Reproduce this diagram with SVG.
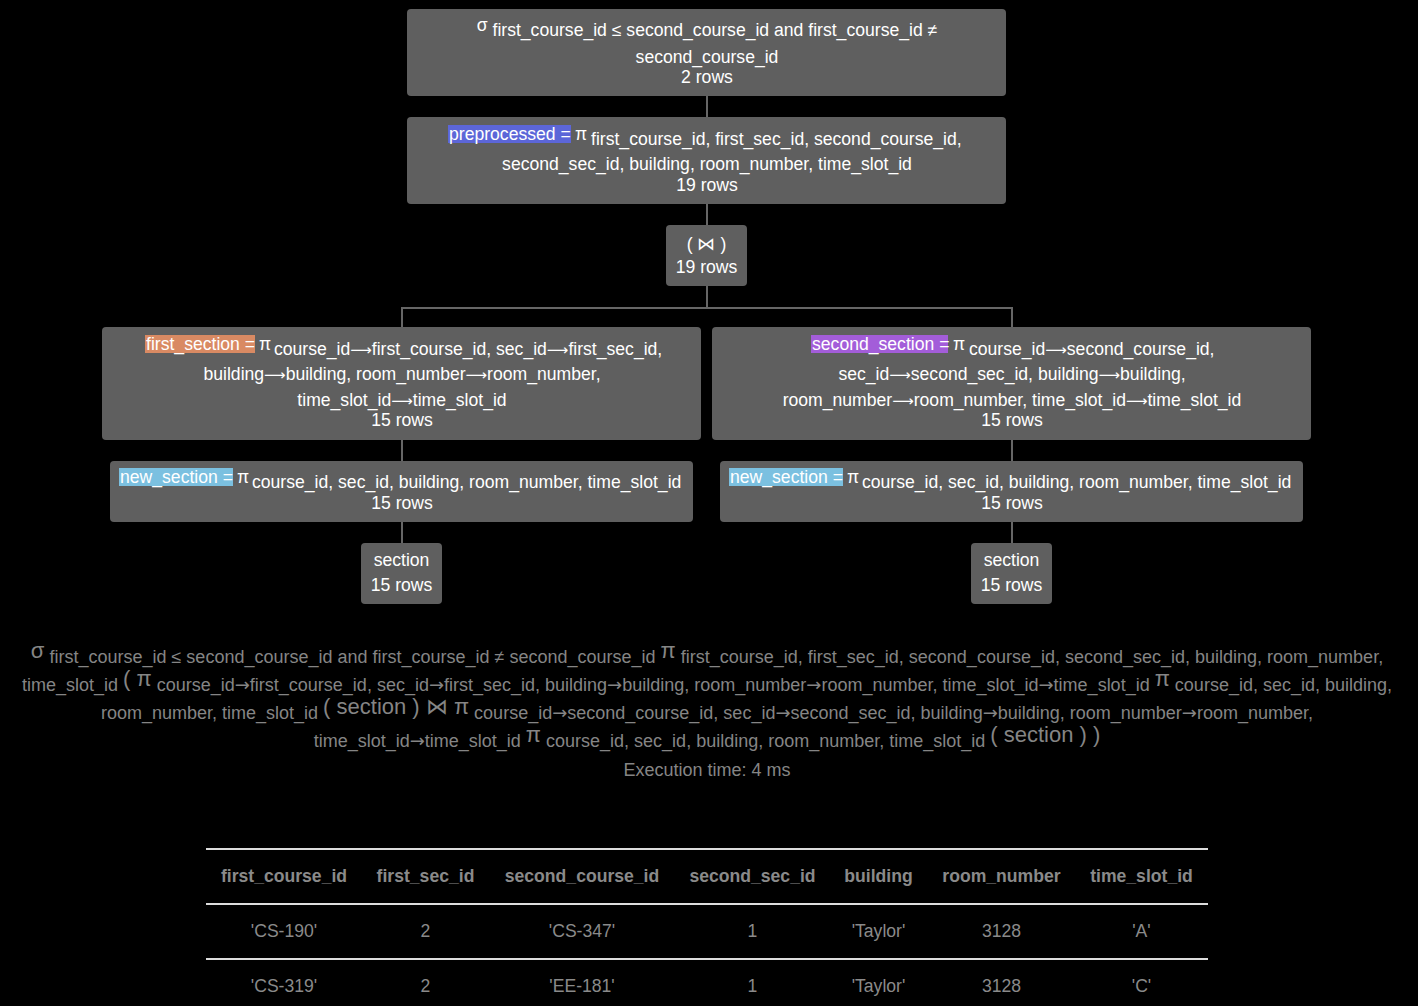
<svg xmlns="http://www.w3.org/2000/svg" width="1418" height="1006" viewBox="0 0 1418 1006">
<style>
text{font-family:"Liberation Sans",Arial,sans-serif;font-size:17.6px}
.node rect.box{fill:#5f5f5f}
.node text{fill:#ffffff}
.c{text-anchor:middle}
.g{fill:#858585;text-anchor:middle;font-size:18px}
.big{font-size:22px}
.ar{font-family:"DejaVu Sans",sans-serif;font-size:15px}
.g .ar{font-size:18px}
.th{fill:#8a8a8a;font-weight:bold;text-anchor:middle}
.td{fill:#8a8a8a;text-anchor:middle}
#connectors path{stroke:#666666;stroke-width:2;fill:none}
.tl{stroke:#dcdcdc;stroke-width:2}
</style>
<rect width="1418" height="1006" fill="#000000"/>
<g id="connectors">
<path d="M707 96V117M707 204V225M707 286V308M402 308H1012M402 307V327M1012 307V327M402 440V461M402 522V543M1012 440V461M1012 522V543"/>
</g>
<g id="node-select" class="node">
<rect class="box" x="407" y="9" width="599" height="87" rx="4"/>
<text x="707" y="31" class="c"><tspan>σ</tspan><tspan dy="5"> first_course_id ≤ second_course_id and first_course_id ≠</tspan></text>
<text x="707" y="63" class="c">second_course_id</text>
<text x="707" y="83" class="c">2 rows</text>
</g>
<g id="node-preprocessed" class="node">
<rect class="box" x="407" y="117" width="599" height="87" rx="4"/>
<rect x="448" y="125" width="123" height="18" fill="#5c66d8"/>
<text x="449" y="140">preprocessed =</text>
<text x="575" y="140">π</text>
<text x="591" y="145">first_course_id, first_sec_id, second_course_id,</text>
<text x="707" y="170" class="c">second_sec_id, building, room_number, time_slot_id</text>
<text x="707" y="191" class="c">19 rows</text>
</g>
<g id="node-join" class="node">
<rect class="box" x="666" y="225" width="81" height="61" rx="4"/>
<text x="706.5" y="250" class="c">( ⋈ )</text>
<text x="706.5" y="273" class="c">19 rows</text>
</g>
<g id="node-first-section" class="node">
<rect class="box" x="102" y="327" width="599" height="113" rx="4"/>
<rect x="145" y="335" width="110" height="18" fill="#d98a63"/>
<text x="146" y="350">first_section =</text>
<text x="259" y="350">π</text>
<text x="274" y="355">course_id<tspan class="ar">⟶</tspan>first_course_id, sec_id<tspan class="ar">⟶</tspan>first_sec_id,</text>
<text x="402" y="380" class="c">building<tspan class="ar">⟶</tspan>building, room_number<tspan class="ar">⟶</tspan>room_number,</text>
<text x="402" y="406" class="c">time_slot_id<tspan class="ar">⟶</tspan>time_slot_id</text>
<text x="402" y="426" class="c">15 rows</text>
</g>
<g id="node-second-section" class="node">
<rect class="box" x="712" y="327" width="599" height="113" rx="4"/>
<rect x="811" y="335" width="137" height="18" fill="#a35dd9"/>
<text x="812" y="350">second_section =</text>
<text x="953" y="350">π</text>
<text x="969" y="355">course_id<tspan class="ar">⟶</tspan>second_course_id,</text>
<text x="1012" y="380" class="c">sec_id<tspan class="ar">⟶</tspan>second_sec_id, building<tspan class="ar">⟶</tspan>building,</text>
<text x="1012" y="406" class="c">room_number<tspan class="ar">⟶</tspan>room_number, time_slot_id<tspan class="ar">⟶</tspan>time_slot_id</text>
<text x="1012" y="426" class="c">15 rows</text>
</g>
<g id="node-new-section-left" class="node">
<rect class="box" x="110" y="461" width="583" height="61" rx="4"/>
<rect x="119" y="468" width="114" height="18" fill="#7bc0e0"/>
<text x="120" y="483">new_section =</text>
<text x="237" y="483">π</text>
<text x="252" y="488">course_id, sec_id, building, room_number, time_slot_id</text>
<text x="402" y="509" class="c">15 rows</text>
</g>
<g id="node-new-section-right" class="node">
<rect class="box" x="720" y="461" width="583" height="61" rx="4"/>
<rect x="729" y="468" width="114" height="18" fill="#7bc0e0"/>
<text x="730" y="483">new_section =</text>
<text x="847" y="483">π</text>
<text x="862" y="488">course_id, sec_id, building, room_number, time_slot_id</text>
<text x="1012" y="509" class="c">15 rows</text>
</g>
<g id="node-section-left" class="node">
<rect class="box" x="361" y="543" width="81" height="61" rx="4"/>
<text x="401.5" y="566" class="c">section</text>
<text x="401.5" y="591" class="c">15 rows</text>
</g>
<g id="node-section-right" class="node">
<rect class="box" x="971" y="543" width="81" height="61" rx="4"/>
<text x="1011.5" y="566" class="c">section</text>
<text x="1011.5" y="591" class="c">15 rows</text>
</g>
<g id="expression">
<text x="707" y="663" class="g"><tspan class="big" dy="-5">σ</tspan><tspan dy="5"> first_course_id ≤ second_course_id and first_course_id ≠ second_course_id </tspan><tspan class="big" dy="-5">π</tspan><tspan dy="5"> first_course_id, first_sec_id, second_course_id, second_sec_id, building, room_number,</tspan></text>
<text x="707" y="691" class="g"><tspan>time_slot_id </tspan><tspan class="big" dy="-5">( π</tspan><tspan dy="5"> course_id<tspan class="ar">→</tspan>first_course_id, sec_id<tspan class="ar">→</tspan>first_sec_id, building<tspan class="ar">→</tspan>building, room_number<tspan class="ar">→</tspan>room_number, time_slot_id<tspan class="ar">→</tspan>time_slot_id </tspan><tspan class="big" dy="-5">π</tspan><tspan dy="5"> course_id, sec_id, building,</tspan></text>
<text x="707" y="719" class="g"><tspan>room_number, time_slot_id </tspan><tspan class="big" dy="-5">( section ) ⋈ π</tspan><tspan dy="5"> course_id<tspan class="ar">→</tspan>second_course_id, sec_id<tspan class="ar">→</tspan>second_sec_id, building<tspan class="ar">→</tspan>building, room_number<tspan class="ar">→</tspan>room_number,</tspan></text>
<text x="707" y="747" class="g"><tspan>time_slot_id<tspan class="ar">→</tspan>time_slot_id </tspan><tspan class="big" dy="-5">π</tspan><tspan dy="5"> course_id, sec_id, building, room_number, time_slot_id </tspan><tspan class="big" dy="-5">( section ) )</tspan></text>
<text x="707" y="776" class="g">Execution time: 4 ms</text>
</g>
<g id="result-table">
<line class="tl" x1="206" y1="849" x2="1208" y2="849"/>
<line class="tl" x1="206" y1="904" x2="1208" y2="904"/>
<line class="tl" x1="206" y1="959" x2="1208" y2="959"/>
<text class="th" x="284" y="882">first_course_id</text>
<text class="th" x="425.5" y="882">first_sec_id</text>
<text class="th" x="582" y="882">second_course_id</text>
<text class="th" x="752.5" y="882">second_sec_id</text>
<text class="th" x="878.5" y="882">building</text>
<text class="th" x="1001.5" y="882">room_number</text>
<text class="th" x="1141.5" y="882">time_slot_id</text>
<text class="td" x="284" y="937">'CS-190'</text>
<text class="td" x="425.5" y="937">2</text>
<text class="td" x="582" y="937">'CS-347'</text>
<text class="td" x="752.5" y="937">1</text>
<text class="td" x="878.5" y="937">'Taylor'</text>
<text class="td" x="1001.5" y="937">3128</text>
<text class="td" x="1141.5" y="937">'A'</text>
<text class="td" x="284" y="992">'CS-319'</text>
<text class="td" x="425.5" y="992">2</text>
<text class="td" x="582" y="992">'EE-181'</text>
<text class="td" x="752.5" y="992">1</text>
<text class="td" x="878.5" y="992">'Taylor'</text>
<text class="td" x="1001.5" y="992">3128</text>
<text class="td" x="1141.5" y="992">'C'</text>
</g>
</svg>
